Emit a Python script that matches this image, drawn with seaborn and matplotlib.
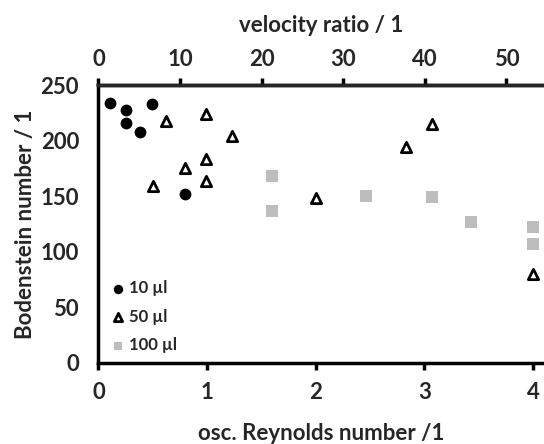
import numpy as np
import pandas as pd
import seaborn as sns
import matplotlib.pyplot as plt

# osc. Reynolds number / Bodenstein number, per droplet volume
re_10 = [0.11, 0.25, 0.49, 0.25, 0.38, 0.80]
bo_10 = [234, 228, 233, 216, 208, 152]

re_50 = [0.62, 0.99, 1.23, 0.99, 0.80, 0.99, 0.50, 2.00, 3.07, 2.83, 4.00]
bo_50 = [218, 224, 204, 184, 175, 164, 159, 148, 215, 194, 80]

re_100 = [1.60, 1.60, 2.46, 3.07, 3.43, 4.00, 4.00]
bo_100 = [168, 137, 150, 149, 127, 122, 107]

labels = ["10 \u00b5l", "50 \u00b5l", "100 \u00b5l"]
x_ticks = [0, 1, 2, 3, 4]
y_ticks = [0, 50, 100, 150, 200, 250]
top_ticks = [0, 10, 20, 30, 40, 50]

df = pd.concat([
    pd.DataFrame({"re": re_10, "bo": bo_10, "vol": labels[0]}),
    pd.DataFrame({"re": re_50, "bo": bo_50, "vol": labels[1]}),
    pd.DataFrame({"re": re_100, "bo": bo_100, "vol": labels[2]}),
])

sns.set_theme(style="white")
plt.rcParams["font.family"] = ["Lato", "DejaVu Sans"]
plt.rcParams["font.weight"] = "bold"

fig = plt.figure(figsize=(5.44, 4.44), dpi=100)
ax = fig.add_axes([0.181, 0.183, 0.819, 0.625])

sns.scatterplot(data=df[df.vol == labels[0]], x="re", y="bo", ax=ax,
                marker="o", s=72, color="black", edgecolor="black",
                linewidth=0, label=labels[0], zorder=3)
sns.scatterplot(data=df[df.vol == labels[1]], x="re", y="bo", ax=ax,
                marker="^", s=55, facecolor="white", edgecolor="black",
                linewidth=2, label=labels[1], zorder=3)
sns.scatterplot(data=df[df.vol == labels[2]], x="re", y="bo", ax=ax,
                marker="s", s=64, color="#bdbdbd", edgecolor="#bdbdbd",
                linewidth=0, label=labels[2], zorder=3)

ax.set_xlim(0, 4.1)
ax.set_ylim(0, 250)
ax.set_xticks(x_ticks)
ax.set_yticks(y_ticks)
ax.set_xticklabels([str(t) for t in x_ticks])
ax.set_yticklabels([str(t) for t in y_ticks])

for side in ["left", "bottom", "top"]:
    ax.spines[side].set_linewidth(2.5)
    ax.spines[side].set_color("black")
ax.spines["right"].set_visible(False)

ax.tick_params(axis="both", which="major", direction="out", length=5,
               width=2.5, color="black", labelsize=16)
ax.tick_params(axis="y", pad=9)
ax.tick_params(axis="x", pad=9)

ax.set_xlabel("osc. Reynolds number /1", fontsize=16, fontweight="bold",
              labelpad=14)
ax.set_ylabel("Bodenstein number / 1", fontsize=16, fontweight="bold",
              labelpad=3)

top = ax.twiny()
top.set_xlim(0, 54.6)
top.set_xticks(top_ticks)
top.set_xticklabels([str(t) for t in top_ticks])
top.tick_params(axis="x", direction="out", length=5, width=2.5,
                color="black", labelsize=16, pad=6)
for side in ["left", "bottom", "right"]:
    top.spines[side].set_visible(False)
top.spines["top"].set_linewidth(2.5)
top.set_xlabel("velocity ratio / 1", fontsize=16, fontweight="bold",
               labelpad=12)

leg = ax.legend(loc="upper left", bbox_to_anchor=(0.026, 0.298), frameon=False,
                fontsize=12, handlelength=1.0, handletextpad=0.15,
                labelspacing=0.75, borderpad=0, borderaxespad=0,
                markerscale=0.8)
for t in leg.get_texts():
    t.set_fontweight("bold")

fig.savefig("out.png", dpi=100)
